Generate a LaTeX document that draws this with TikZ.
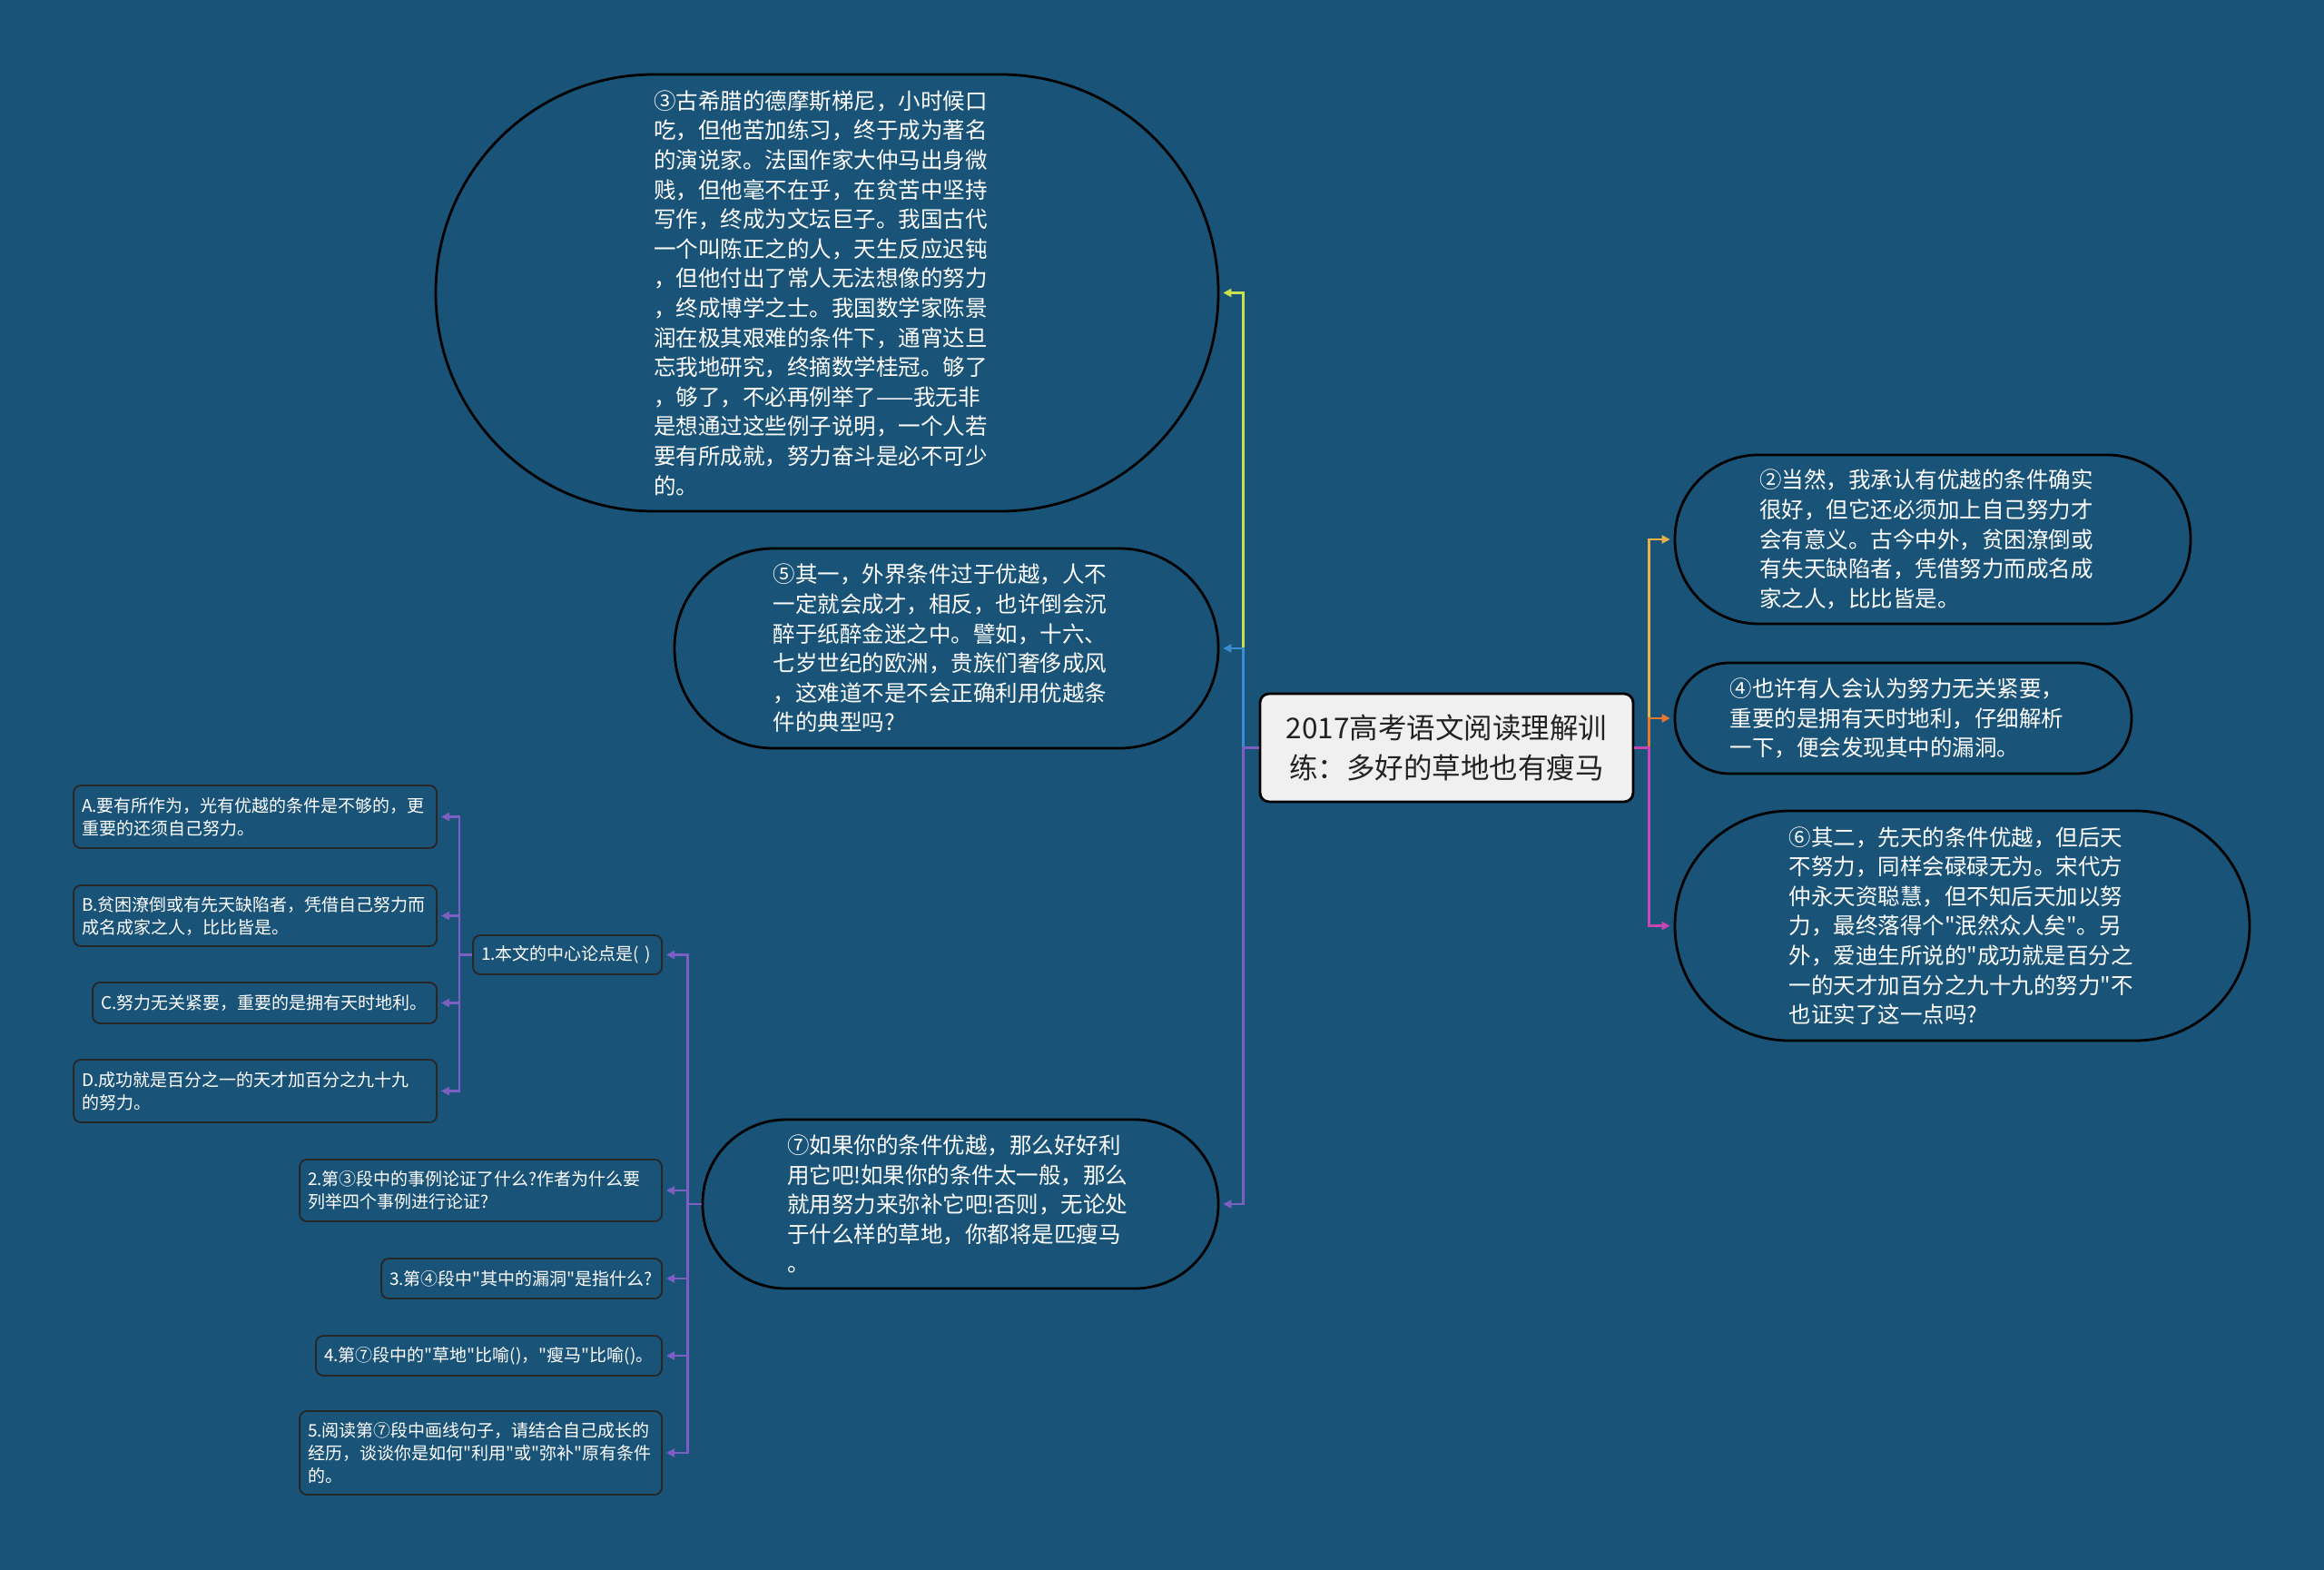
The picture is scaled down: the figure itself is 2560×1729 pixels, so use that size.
\documentclass[tikz,border=0pt]{standalone}
\usepackage{fontspec}
\newfontfamily\cjkf{Noto Sans CJK SC}
\usetikzlibrary{arrows.meta}
\definecolor{bg}{RGB}{26,83,120}
\definecolor{clime}{RGB}{200,225,80}
\definecolor{cblue}{RGB}{60,140,210}
\definecolor{cpurple}{RGB}{125,95,195}
\definecolor{cgold}{RGB}{232,176,72}
\definecolor{corange}{RGB}{232,118,44}
\definecolor{cmagenta}{RGB}{200,70,180}
\definecolor{rootfill}{RGB}{240,240,240}
\definecolor{roottext}{RGB}{34,34,34}
\tikzset{
  bignode/.style={draw=black, line width=2.8pt, fill=bg, text=white,
    font=\cjkf\fontsize{24.5}{32.6}\selectfont, align=left, inner sep=0pt, text width=382pt},
  qbox/.style={draw=black!85, line width=1.8pt, rounded corners=8pt, fill=bg, text=white,
    font=\cjkf\fontsize{19}{25}\selectfont, align=left, inner xsep=9pt, inner ysep=0pt, anchor=east},
  rootnode/.style={draw=black, line width=2.8pt, rounded corners=10pt, fill=rootfill, text=roottext,
    font=\cjkf\fontsize{31.5}{44}\selectfont, align=center, inner sep=0pt},
  conn/.style={line width=2.5pt, -{Triangle[length=9pt,width=9pt]}, shorten >=4pt}
}
\begin{document}
\begin{tikzpicture}[x=1pt,y=-1pt]
\path[use as bounding box, fill=bg] (0,0) rectangle (2560,1729);

% root
\node[rootnode, minimum width=411pt, minimum height=119pt] (c) at (1593.5,823.5)
  {2017高考语文阅读理解训\\练：多好的草地也有瘦马};

% left big nodes
\node[bignode, minimum width=862pt, minimum height=481pt, rounded corners=240pt] (n3) at (911,322.5)
  {③古希腊的德摩斯梯尼，小时候口\\吃，但他苦加练习，终于成为著名\\的演说家。法国作家大仲马出身微\\贱，但他毫不在乎，在贫苦中坚持\\写作，终成为文坛巨子。我国古代\\一个叫陈正之的人，天生反应迟钝\\，但他付出了常人无法想像的努力\\，终成博学之士。我国数学家陈景\\润在极其艰难的条件下，通宵达旦\\忘我地研究，终摘数学桂冠。够了\\，够了，不必再例举了——我无非\\是想通过这些例子说明，一个人若\\要有所成就，努力奋斗是必不可少\\的。};
\node[bignode, minimum width=599pt, minimum height=220pt, rounded corners=109pt] (n5) at (1042.5,714)
  {⑤其一，外界条件过于优越，人不\\一定就会成才，相反，也许倒会沉\\醉于纸醉金迷之中。譬如，十六、\\七岁世纪的欧洲，贵族们奢侈成风\\，这难道不是不会正确利用优越条\\件的典型吗?};
\node[bignode, minimum width=568pt, minimum height=186pt, rounded corners=92pt] (n7) at (1058,1326)
  {⑦如果你的条件优越，那么好好利\\用它吧!如果你的条件太一般，那么\\就用努力来弥补它吧!否则，无论处\\于什么样的草地，你都将是匹瘦马\\。};

% right big nodes
\node[bignode, minimum width=568pt, minimum height=186pt, rounded corners=92pt] (n2) at (2129,594)
  {②当然，我承认有优越的条件确实\\很好，但它还必须加上自己努力才\\会有意义。古今中外，贫困潦倒或\\有失天缺陷者，凭借努力而成名成\\家之人，比比皆是。};
\node[bignode, minimum width=503pt, minimum height=122pt, rounded corners=60pt] (n4) at (2096.5,791)
  {④也许有人会认为努力无关紧要，\\重要的是拥有天时地利，仔细解析\\一下，便会发现其中的漏洞。};
\node[bignode, minimum width=633pt, minimum height=253pt, rounded corners=126pt] (n6) at (2161.5,1019.5)
  {⑥其二，先天的条件优越，但后天\\不努力，同样会碌碌无为。宋代方\\仲永天资聪慧，但不知后天加以努\\力，最终落得个"泯然众人矣"。另\\外，爱迪生所说的"成功就是百分之\\一的天才加百分之九十九的努力"不\\也证实了这一点吗?};

% questions
\node[qbox, text width=190pt, minimum height=43pt] (q1) at (730,1051.5) {1.本文的中心论点是( )};
\node[qbox, text width=381pt, minimum height=68pt] (q2) at (730,1311) {2.第③段中的事例论证了什么?作者为什么要\\列举四个事例进行论证?};
\node[qbox, text width=291pt, minimum height=44pt] (q3) at (730,1408) {3.第④段中"其中的漏洞"是指什么?};
\node[qbox, text width=363pt, minimum height=44pt] (q4) at (730,1493) {4.第⑦段中的"草地"比喻()，"瘦马"比喻()。};
\node[qbox, text width=381pt, minimum height=92pt] (q5) at (730,1600) {5.阅读第⑦段中画线句子，请结合自己成长的\\经历，谈谈你是如何"利用"或"弥补"原有条件\\的。};

% options
\node[qbox, text width=382pt, minimum height=69pt] (oa) at (482,899.5) {A.要有所作为，光有优越的条件是不够的，更\\重要的还须自己努力。};
\node[qbox, text width=382pt, minimum height=67pt] (ob) at (482,1008.5) {B.贫困潦倒或有先天缺陷者，凭借自己努力而\\成名成家之人，比比皆是。};
\node[qbox, text width=361pt, minimum height=45pt] (oc) at (482,1104.5) {C.努力无关紧要，重要的是拥有天时地利。};
\node[qbox, text width=382pt, minimum height=69pt] (od) at (482,1201.5) {D.成功就是百分之一的天才加百分之九十九\\的努力。};

% connectors root -> left
\draw[conn, draw=clime] (c.west) -- ++(-17,0) |- (n3.east);
\draw[conn, draw=cblue] (c.west) -- ++(-17,0) |- (n5.east);
\draw[conn, draw=cpurple] (c.west) -- ++(-17,0) |- (n7.east);
% root -> right
\draw[conn, draw=cgold] (c.east) -- ++(16,0) |- (n2.west);
\draw[conn, draw=corange] (c.east) -- ++(16,0) |- (n4.west);
\draw[conn, draw=cmagenta] (c.east) -- ++(16,0) |- (n6.west);
% n7 -> questions
\foreach \q in {q1,q2,q3,q4,q5}
  \draw[conn, draw=cpurple] (n7.west) -- ++(-15,0) |- (\q.east);
% q1 -> options
\foreach \o in {oa,ob,oc,od}
  \draw[conn, draw=cpurple] (q1.west) -- ++(-14,0) |- (\o.east);
\end{tikzpicture}
\end{document}
